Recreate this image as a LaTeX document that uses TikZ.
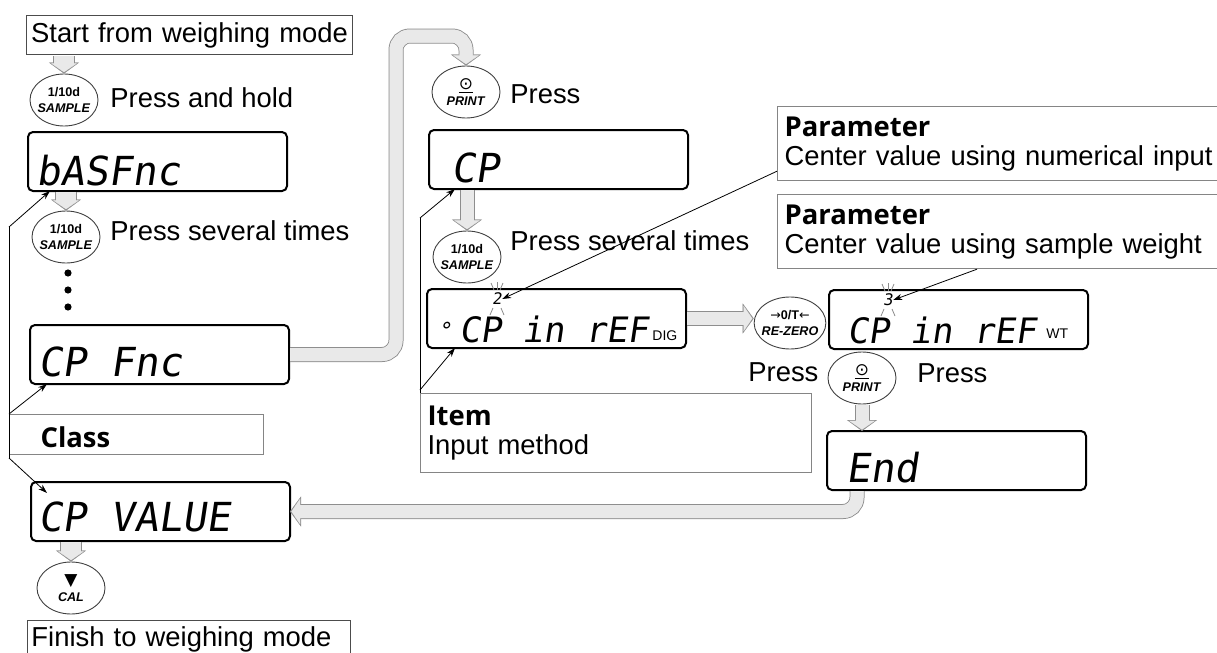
\documentclass[tikz,border=0pt]{standalone}
\usepackage{fontspec}
\setmainfont{Liberation Sans}
\newfontfamily\headfont{Open Sans}
\newfontfamily\segfont[FakeSlant=0.15]{DejaVu Sans Mono}
\newfontfamily\dejavu{DejaVu Sans}
\usepackage{tikz}
\usetikzlibrary{shapes.geometric}
\usetikzlibrary{arrows.meta}

\definecolor{arrowfill}{HTML}{E9E9E9}
\definecolor{arrowedge}{HTML}{8E8E8E}
\definecolor{notegray}{HTML}{858585}

\newcommand{\flowfont}{\fontsize{13.7}{14.5}\selectfont}
\newcommand{\segtxt}{\segfont\fontsize{20}{22}\selectfont}
\newcommand{\segnarrow}{\segfont\fontsize{17.5}{20}\selectfont}
\newcommand{\keyfont}{\fontsize{6.3}{7.8}\selectfont\bfseries}
\newcommand{\keysym}{\dejavu\mdseries\fontsize{8.5}{8}\selectfont}
\newcommand{\grayarrow}[3]{%
  \draw[arrowout=#1] #3;
  \draw[arrowin=#2] #3;
  \draw[arrowshaft=#2] #3;}

\tikzset{
  arrowout/.style={draw=arrowedge, line width=#1, rounded corners=7pt, shorten <=0.5pt,
    -{Triangle[length=5.5pt,width=15pt,line width=0.1pt]}},
  arrowin/.style={draw=arrowfill, line width=#1, rounded corners=7pt, shorten <=0.5pt,
    shorten >=0.7pt, -{Triangle[length=4.4pt,width=12.8pt,line width=0.1pt]}},
  arrowshaft/.style={draw=arrowfill, line width=#1, rounded corners=7pt, shorten <=0.5pt,
    shorten >=4.5pt},
  flowbox/.style={draw=black!70, line width=0.5pt, inner ysep=1pt, align=left,
    font=\flowfont, anchor=north west},
  notebox/.style={draw=notegray, line width=0.6pt, align=left, font=\flowfont,
    anchor=north west},
  display/.style={draw, line width=1pt, rounded corners=2.5pt, minimum width=129.5pt,
    minimum height=29.5pt, inner sep=0pt, outer sep=0pt, anchor=north west},
  segtext/.style={font=\segtxt, anchor=base west, inner sep=0pt},
  tagtext/.style={font=\fontsize{7}{8}\selectfont, anchor=base west, inner sep=0pt},
  keycap/.style={ellipse, draw=black!75, line width=0.45pt, inner xsep=-1.5pt,
    inner ysep=0pt, minimum width=34pt, minimum height=26pt, align=center, font=\keyfont},
  presstext/.style={font=\flowfont, anchor=base west, inner sep=0pt},
  leader/.style={line width=0.4pt, -{Stealth[length=4.5pt,width=3pt]}},
  leadline/.style={line width=0.4pt},
  rayline/.style={draw=black!45, line width=0.4pt}
}

\begin{document}
\begin{tikzpicture}[x=0.5pt, y=-0.5pt]
    \useasboundingbox (0,0) rectangle (1217,653);

    % text boxes
    \node[flowbox, align=center, text width=160pt, inner xsep=1.5pt, text height=12.5pt,
        text depth=5pt] (start) at (26,15) {Start from weighing mode};
    \node[flowbox, text width=157.5pt, inner xsep=2pt, text height=12pt, text depth=5pt]
        (finish) at (27,620) {Finish to weighing mode};
    \node[notebox, text width=96pt, inner xsep=15.5pt, inner ysep=1pt, text height=15.5pt,
        text depth=2.5pt] (class) at (9,414) {\headfont\bfseries Class};
    \node[notebox, text width=188.5pt, inner xsep=3.5pt, minimum height=39.5pt]
        (item) at (420,393) {{\headfont\bfseries Item}\\Input method};
    \node[notebox, text width=217pt, inner xsep=3.5pt, minimum height=37pt]
        (param1) at (777,106) {{\headfont\bfseries Parameter}\\Center value using numerical input};
    \node[notebox, text width=217pt, inner xsep=3.5pt, minimum height=37pt]
        (param2) at (777,194) {{\headfont\bfseries Parameter}\\Center value using sample weight};

    % displays
    \node[display] (disp1) at (28,132) {};
    \node[display] (dispFnc) at (30,325) {};
    \node[display] (dispValue) at (31,482) {};
    \node[display] (dispCP) at (429,130) {};
    \node[display] (dispDig) at (427,289) {};
    \node[display] (dispWt) at (829,290) {};
    \node[display] (dispEnd) at (827,431) {};

    \node[segtext] (txtBas) at (36,185) {bASFnc};
    \node[segtext] (txtFnc) at (38,376) {CP Fnc};
    \node[segtext] (txtValue) at (38,531) {CP VALUE};
    \node[segtext] (txtCP) at (451,182) {CP};
    \node[segtext, font=\segnarrow] (txtDig) at (459,342) {CP in rEF};
    \node[segtext, font=\segnarrow] (txtWt) at (847,343) {CP in rEF};
    \node[segtext] (txtEnd) at (846,482) {End};
    \node[font=\segfont\fontsize{11}{11}\selectfont, inner sep=0pt] (degree) at (445,330) {°};
    \node[tagtext] (tagDig) at (652,340) {DIG};
    \node[tagtext] (tagWt) at (1046,338) {WT};

    % blinking digits
    \node[font=\segfont\fontsize{8}{8}\selectfont, inner sep=0pt] (blinkA) at (497,299) {2};
    \node[font=\segfont\fontsize{8}{8}\selectfont, inner sep=0pt] (blinkB) at (888,300) {3};
    \foreach \b in {blinkA, blinkB} {
        \draw[rayline] ([shift={(-6,-16)}]\b.center) -- ([shift={(-3,-9)}]\b.center);
        \draw[rayline] ([shift={(0,-17)}]\b.center) -- ([shift={(0,-9)}]\b.center);
        \draw[rayline] ([shift={(6,-16)}]\b.center) -- ([shift={(3,-9)}]\b.center);
        \draw[rayline] ([shift={(-7,16)}]\b.center) -- ([shift={(-4,9)}]\b.center);
        \draw[rayline] ([shift={(7,16)}]\b.center) -- ([shift={(4,9)}]\b.center);
    }

    % keys
    \node[keycap] (key1) at (64,100) {1/10d\\\textit{SAMPLE}};
    \node[keycap] (key2) at (66,237) {1/10d\\\textit{SAMPLE}};
    \node[keycap] (cal) at (71,588) {{\keysym ▼}\\\textit{CAL}};
    \node[keycap] (printA) at (466,92) {{\keysym\underline{⊙}}\\\textit{PRINT}};
    \node[keycap] (sampleB) at (467,257) {1/10d\\\textit{SAMPLE}};
    \node[keycap] (rezero) at (790,323) {{\dejavu\mdseries →}0/T{\dejavu\mdseries ←}\\\textit{RE-ZERO}};
    \node[keycap] (printB) at (862,378) {{\keysym\underline{⊙}}\\\textit{PRINT}};

    \node[presstext] (pressHold) at (110,107) {Press and hold};
    \node[presstext] (pressSev) at (110,240) {Press several times};
    \node[presstext] (pressA) at (510,103) {Press};
    \node[presstext] (pressSevB) at (510,250) {Press several times};
    \node[presstext] (pressZero) at (748,381) {Press};
    \node[presstext] (pressB) at (917,382) {Press};

    \foreach \y in {273,290,307}
        \fill (68,\y) circle (1.8pt);

    % gray flow arrows
    \grayarrow{11pt}{10pt}{(key1.north |- start.south) -- (key1.north)}
    \grayarrow{11pt}{10pt}{(key2.north |- disp1.south) -- (key2.north)}
    \grayarrow{11pt}{10pt}{(cal.north |- dispValue.south) -- (cal.north)}
    \grayarrow{7.5pt}{6.5pt}{(sampleB.north |- dispCP.south) -- (sampleB.north)}
    \grayarrow{7.5pt}{6.5pt}{(printB.south) -- (printB.south |- dispEnd.north)}
    \grayarrow{7.5pt}{6.5pt}{(dispDig.east) -- (dispDig.east -| rezero.west)}
    \grayarrow{7.5pt}{6.5pt}{(dispFnc.east) -| (396,36) -| (printA.north)}
    \grayarrow{7.5pt}{6.5pt}{([xshift=15pt]dispEnd.south west) |- (dispValue.east)}

    % leader lines
    \coordinate (classTop) at (9,227);
    \coordinate (classBot) at (9,458);
    \coordinate (itemTop) at (420,218);
    \draw[leadline] (classTop) -- (classBot);
    \draw[leader] (classTop) -- ([xshift=11pt]disp1.south west);
    \draw[leader] (class.north west) -- ([xshift=8.5pt]dispFnc.south west);
    \draw[leader] (classBot) -- ([xshift=8pt,yshift=-5.5pt]dispValue.north west);
    \draw[leadline] (itemTop) -- (item.north west);
    \draw[leader] (itemTop) -- ([xshift=13pt]dispCP.south west);
    \draw[leader] ([yshift=1.5pt]item.north west) -- ([xshift=14pt]dispDig.south west);
    \draw[leader] ([yshift=5pt]param1.south west) -- (blinkA.east);
    \draw[leader] ([xshift=100pt]param2.south west) -- (blinkB.east);
\end{tikzpicture}
\end{document}
